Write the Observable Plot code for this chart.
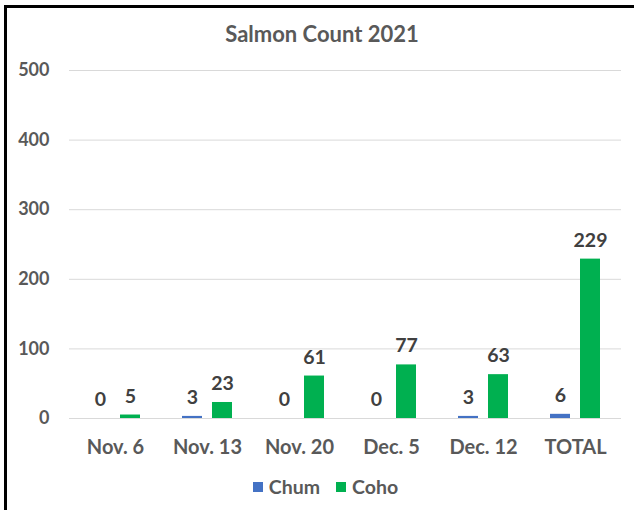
<!DOCTYPE html>
<html>
<head>
<meta charset="utf-8">
<script src="https://cdn.jsdelivr.net/npm/d3@7"></script>
<script src="https://cdn.jsdelivr.net/npm/@observablehq/plot@0.6"></script>
<style>
  html, body { margin: 0; padding: 0; background: #fff; overflow: hidden; }
  body { width: 634px; height: 510px; position: relative; font-family: Lato, "Open Sans", sans-serif; }
  #frame { position: absolute; left: 4px; top: 5px; width: 700px; height: 600px;
           border-top: 3px solid #000; border-left: 3px solid #000; }
  #title { position: absolute; left: 0; width: 644px; top: 21px; text-align: center;
           font-size: 22px; font-weight: bold; color: #595959; line-height: 26px; }
  #chart { position: absolute; left: 0; top: 40px; }
  #chart [aria-label^="fx-axis"] text { font-size: 20px; }
  #legend { position: absolute; left: 0; width: 651px; top: 473px; text-align: center;
            font-size: 19.5px; font-weight: bold; color: #595959; line-height: 24px; }
  .item { display: inline-flex; align-items: center; margin: 0 8px; }
  .sw { width: 10px; height: 10px; display: inline-block; margin-right: 6px; }
</style>
</head>
<body>
<div id="frame"></div>
<div id="title">Salmon Count 2021</div>
<div id="chart"></div>
<div id="legend"></div>
<script>
const dates = ["Nov. 6", "Nov. 13", "Nov. 20", "Dec. 5", "Dec. 12", "TOTAL"];
const species = ["Chum", "Coho"];
const chum = [0, 3, 0, 0, 3, 6];
const coho = [5, 23, 61, 77, 63, 229];
const yTicks = [0, 100, 200, 300, 400, 500];
const colors = ["#4472C4", "#00B050"];

const data = [];
dates.forEach((d, i) => {
  data.push({date: d, species: "Chum", value: chum[i]});
  data.push({date: d, species: "Coho", value: coho[i]});
});

const chart = Plot.plot({
  width: 634,
  height: 420,
  marginLeft: 68,
  marginRight: 12,
  marginTop: 30,
  marginBottom: 42,
  style: {fontFamily: "Lato, 'Open Sans', sans-serif", fontSize: "18px", fontWeight: "bold", color: "#595959", background: "transparent"},
  fx: {domain: dates, paddingInner: 0, paddingOuter: 0, label: null, axis: "bottom", tickSize: 0, tickPadding: 21},
  x: {domain: species, paddingInner: 0.3226, paddingOuter: 0.648, axis: null},
  y: {domain: [0, 500], ticks: yTicks, label: null, tickSize: 0, tickPadding: 20},
  color: {domain: species, range: colors},
  marks: [
    Plot.ruleY(yTicks, {stroke: "#D9D9D9", strokeWidth: 1}),
    Plot.barY(data, {fx: "date", x: "species", y: "value", fill: "species"}),
    Plot.text(data, {fx: "date", x: "species", y: "value", text: d => String(d.value),
      dy: -12.5, lineAnchor: "bottom", fill: "#404040", fontSize: 19.5, fontWeight: "bold"})
  ]
});
document.getElementById("chart").appendChild(chart);

const legend = document.getElementById("legend");
species.forEach((s, i) => {
  const item = document.createElement("span");
  item.className = "item";
  const sw = document.createElement("span");
  sw.className = "sw";
  sw.style.background = colors[i];
  item.appendChild(sw);
  item.appendChild(document.createTextNode(s));
  legend.appendChild(item);
});
</script>
</body>
</html>
